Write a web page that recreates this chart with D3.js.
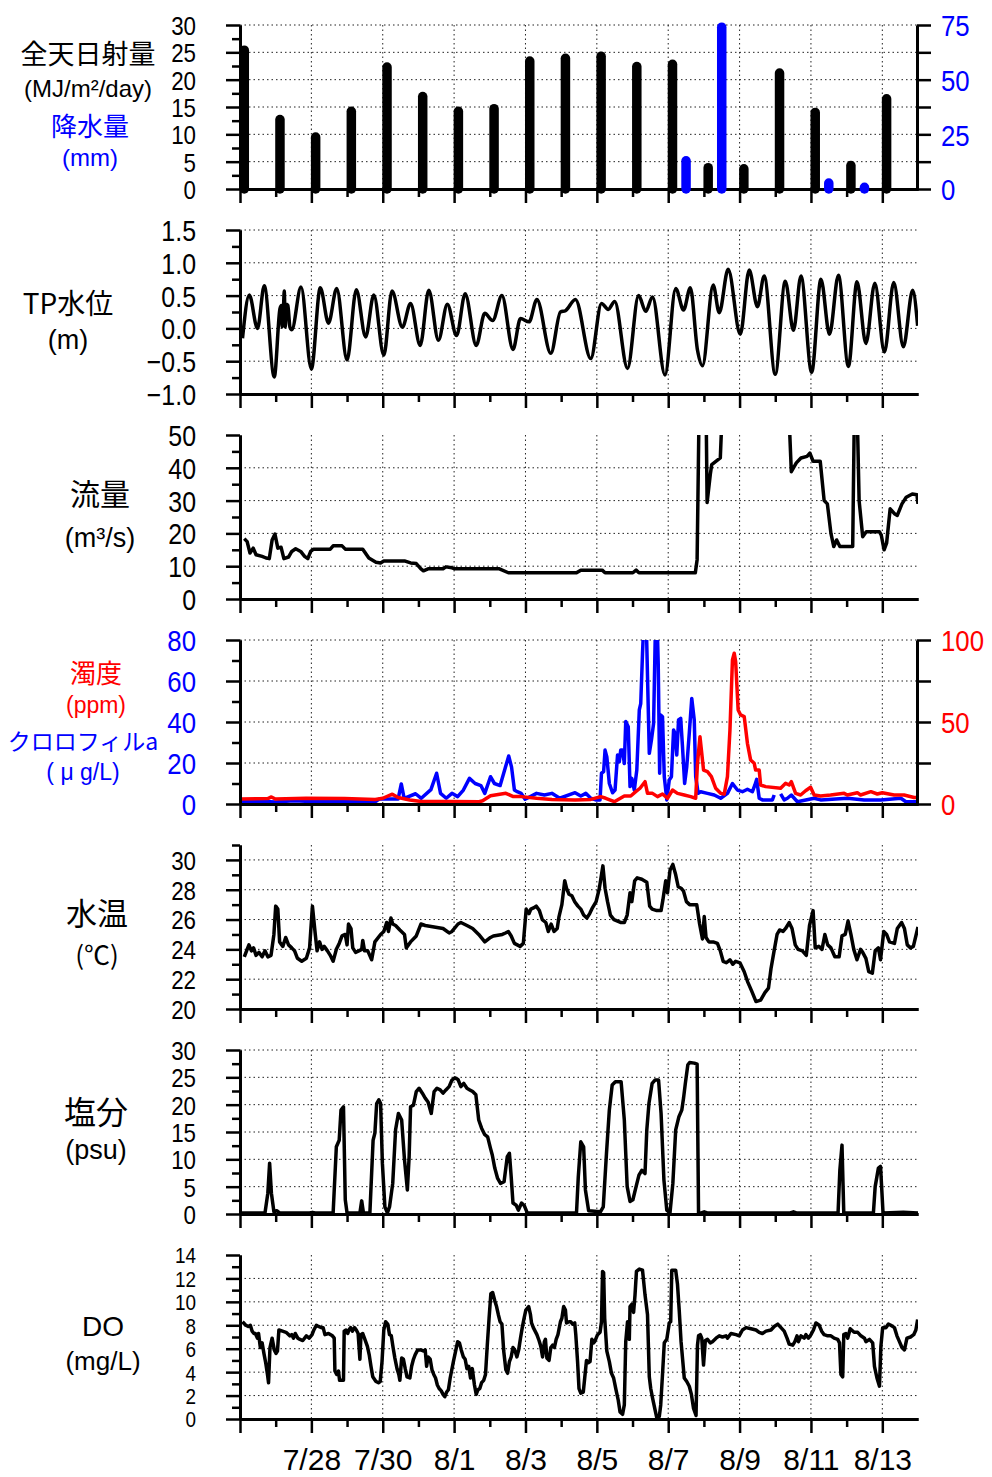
<!DOCTYPE html>
<html>
<head>
<meta charset="utf-8">
<script src="https://cdn.jsdelivr.net/npm/d3@7"></script>
<style>
body { margin: 0; background: #fff; }
svg { display: block; }
text { font-family: "Liberation Sans", Arial, sans-serif; }
.jp { font-family: "Noto Sans CJK JP", sans-serif; }
</style>
</head>
<body>
<svg id="chart" width="992" height="1477"></svg>
<script>
'use strict';

// days since 7/26 0:00
var days = d3.range(19);
var labelDays = [2, 4, 6, 8, 10, 12, 14, 16, 18];
var dayLabels = ['7/28', '7/30', '8/1', '8/3', '8/5', '8/7', '8/9', '8/11', '8/13'];

// 全天日射量 MJ/m2/day, 降水量 mm (daily)
var solar = [25.4, 12.7, 9.5, 14.2, 22.3, 16.9, 14.2, 14.7, 23.4, 23.9, 24.3, 22.4, 22.8, 3.9, 3.7, 21.2, 14.0, 4.3, 16.5];
var rain = [0, 0, 0, 0, 0, 0, 0, 0, 0, 0, 0, 0, 12.9, 74, 0, 0, 2.7, 0.8, 0];

// TP水位 m  [day, value]
var tide = [[0.07,-0.15],[0.26,0.51],[0.49,0.0],[0.68,0.65],[0.96,-0.74],[1.12,0.3],[1.16,0.35],[1.18,0.02],[1.22,0.33],
  [1.24,0.57],[1.27,0.02],[1.3,0.37],[1.34,0.35],[1.4,0.02],[1.45,-0.02],[1.71,0.63],[2.0,-0.62],[2.25,0.62],[2.48,0.08],
  [2.71,0.61],[3.0,-0.48],[3.26,0.59],[3.52,-0.13],[3.75,0.51],[4.03,-0.41],[4.26,0.57],[4.55,0.02],[4.78,0.38],[5.05,-0.26],
  [5.29,0.58],[5.56,-0.18],[5.81,0.37],[6.07,-0.11],[6.31,0.53],[6.62,-0.26],[6.86,0.23],[7.08,0.12],[7.34,0.5],[7.65,-0.32],
  [7.86,0.15],[8.1,0.1],[8.32,0.44],[8.71,-0.38],[8.98,0.25],[9.12,0.27],[9.4,0.44],[9.83,-0.46],[10.13,0.38],[10.32,0.29],
  [10.5,0.41],[10.86,-0.61],[11.17,0.5],[11.37,0.26],[11.56,0.48],[11.91,-0.71],[12.21,0.61],[12.43,0.28],[12.62,0.62],
  [12.82,-0.33],[12.96,-0.57],[13.26,0.66],[13.43,0.24],[13.68,0.9],[14.02,-0.09],[14.27,0.89],[14.5,0.33],[14.69,0.8],
  [15.0,-0.7],[15.28,0.72],[15.51,-0.03],[15.72,0.8],[16.02,-0.67],[16.28,0.75],[16.52,-0.09],[16.77,0.81],[17.05,-0.58],
  [17.29,0.71],[17.54,-0.23],[17.79,0.69],[18.06,-0.36],[18.32,0.7],[18.59,-0.28],[18.85,0.58],[18.99,0.04]];

// 流量 m3/s
var flow = [[0.12,18.4],[0.2,17.5],[0.28,14],[0.37,15.5],[0.45,13.5],[0.62,13.0],[0.73,12.5],[0.82,12.3],[0.9,18],[0.98,19.8],
  [1.06,15.5],[1.15,15.8],[1.23,12.3],[1.36,12.8],[1.45,14.5],[1.56,15.3],[1.7,14.5],[1.81,13.0],[1.9,12.3],[1.98,14.5],
  [2.06,15.2],[2.53,15.2],[2.61,16.2],[2.86,16.2],[2.95,15.2],[3.44,15.2],[3.61,12.5],[3.81,11.2],[3.94,11.0],[4.03,11.6],
  [4.61,11.6],[4.78,11.0],[4.94,10.8],[5.07,9.2],[5.14,8.6],[5.27,9.2],[5.69,9.2],[5.77,9.8],[5.94,9.5],[6.02,9.2],[7.27,9.2],
  [7.52,8.0],[9.43,8.0],[9.55,8.8],[10.15,8.8],[10.23,8.0],[11.01,8.0],[11.1,8.8],[11.18,8.0],[12.76,8.0],[12.81,12],
  [12.88,70],[13.0,80],[13.06,60],[13.09,29.4],[13.18,38],[13.22,41],[13.46,43],[13.56,70],[14.0,90],[15.0,100],[15.37,60],
  [15.45,38.8],[15.59,41.5],[15.72,43],[15.89,43.5],[15.97,44.5],[16.06,42],[16.26,42],[16.37,30],[16.46,29],[16.56,20],
  [16.64,16],[16.72,18],[16.81,16],[17.17,16],[17.22,60],[17.29,60],[17.35,30],[17.45,19],[17.55,20.5],[17.92,20.5],
  [17.97,19.5],[18.05,15],[18.12,17],[18.22,27.5],[18.34,26],[18.42,25.5],[18.55,29],[18.67,31],[18.84,32],[18.97,31.8],[19.0,29]];

// クロロフィルa μg/L (left axis)
var chl = [[0.02,1.1],[0.5,1.4],[1,1.0],[1.5,1.6],[2,1.2],[2.5,1.5],[3,1.1],[3.5,1.4],[3.79,1.1],[3.9,2.4],[4.43,2.4],[4.52,9.8],
  [4.6,2.8],[4.92,5],[5.08,2.8],[5.35,7],[5.51,15],[5.62,5.2],[5.78,2.8],[5.94,5.2],[6.1,3.6],[6.26,6.8],[6.43,12.5],[6.59,10],
  [6.75,9],[6.86,5.2],[7.02,13.3],[7.13,10],[7.29,9],[7.43,17.4],[7.53,23.4],[7.61,18],[7.69,6.8],[7.77,6],[7.88,5.2],[7.99,2.3],
  [8.31,5.2],[8.53,4.4],[8.74,5.2],[8.96,2.8],[9.39,5.5],[9.55,3.9],[9.69,5.2],[9.83,2.8],[9.97,2],[10.09,2],[10.13,15],
  [10.19,15.8],[10.23,26.3],[10.28,23],[10.35,10],[10.44,5.5],[10.51,6.8],[10.58,23.9],[10.63,20.6],[10.67,26.3],[10.72,26.3],
  [10.77,19.8],[10.81,40.2],[10.88,37.7],[10.93,8.5],[10.98,12.5],[11.05,6.8],[11.12,16.6],[11.19,45.9],[11.23,49],[11.28,73.5],
  [11.33,95],[11.39,85],[11.47,24.7],[11.53,31.2],[11.59,39.3],[11.64,85],[11.68,95],[11.72,68.6],[11.76,15],[11.79,43.4],
  [11.84,42.6],[11.89,13.3],[11.96,2],[12.03,11.7],[12.09,13.3],[12.15,36.1],[12.19,34.5],[12.24,23.9],[12.29,41],[12.35,41.8],
  [12.4,28],[12.46,10],[12.52,18.2],[12.59,34.5],[12.66,51.5],[12.73,41],[12.77,13.3],[12.84,5.2],[12.91,6],[13.1,5.2],
  [13.29,4.4],[13.47,2.8],[13.66,5.2],[13.8,10],[13.94,6.8],[14.08,6],[14.22,7.2],[14.36,6],[14.43,9.3],[14.48,12],[14.55,2.8],
  [14.64,2],[14.92,2],[14.97,4.4],[15.05,null],[15.15,4.9],[15.25,2],[15.34,2.8],[15.45,4.4],[15.62,1.1],[16.09,2.8],[16.27,2],
  [17.02,2.8],[17.49,2],[17.96,2],[18.52,2.8],[18.66,1.1],[18.89,1.1],[19.0,1.1]];

// 濁度 ppm (right axis)
var turb = [[0.02,3],[0.78,3.3],[0.88,4.3],[0.99,3],[1.85,3.5],[2.93,3.3],[3.79,2.8],[4.0,3.5],[4.27,6],[4.43,4],[4.76,2.4],
  [5.08,1.5],[5.94,1.5],[6.7,1.4],[6.8,2],[7.02,5],[7.45,6.5],[7.66,4.5],[7.88,4.5],[8.31,3.5],[8.74,2.8],[9.39,2.4],[9.83,2.8],
  [10.11,4.5],[10.25,3.5],[10.49,1.4],[10.77,4.9],[10.95,4.9],[11.09,7.5],[11.21,9.6],[11.35,13.6],[11.42,6.5],[11.56,6.5],
  [11.7,4.5],[11.84,6.1],[11.98,3.5],[12.12,8.5],[12.26,6.5],[12.45,5.5],[12.63,4.5],[12.77,3.5],[12.82,24.8],[12.89,41],
  [12.93,33],[12.99,20.7],[13.1,19.7],[13.21,16.7],[13.33,9.6],[13.47,6.5],[13.57,6],[13.66,16.7],[13.73,45],[13.8,87.8],
  [13.85,91.9],[13.89,86.8],[13.96,57.3],[14.03,54.3],[14.13,53.3],[14.22,37],[14.31,26.8],[14.41,24.8],[14.45,20.7],
  [14.55,20.7],[14.59,11.6],[14.73,10.6],[15.15,9.6],[15.29,12.6],[15.39,11.6],[15.45,13.6],[15.57,6.5],[15.71,5.5],
  [15.85,8.1],[15.99,10.2],[16.09,5.5],[16.27,4.9],[16.55,5.5],[16.93,6.5],[17.02,5.5],[17.3,6.9],[17.39,5.5],[17.68,7.5],
  [17.86,6.1],[18.0,6.9],[18.33,5.5],[18.61,5.5],[18.89,4],[19.0,4]];

// 水温 ℃
var temp = [[0.12,23.5],[0.2,24.0],[0.25,24.3],[0.32,23.9],[0.38,24.1],[0.45,23.6],[0.53,23.8],[0.62,23.5],[0.7,23.9],[0.78,23.5],
  [0.87,23.6],[0.95,25.0],[1.0,26.9],[1.06,26.7],[1.11,24.5],[1.2,24.2],[1.28,24.8],[1.36,24.3],[1.45,24.1],[1.53,23.9],
  [1.61,23.4],[1.73,23.2],[1.86,23.4],[1.95,24.1],[2.03,26.9],[2.11,25.0],[2.16,23.9],[2.23,24.5],[2.3,24.0],[2.36,24.2],
  [2.45,23.9],[2.53,23.6],[2.61,23.2],[2.7,24.0],[2.78,24.4],[2.86,24.9],[2.95,25.0],[3.0,24.3],[3.04,25.7],[3.11,25.4],
  [3.16,24.1],[3.24,23.8],[3.33,23.9],[3.41,24.0],[3.44,24.6],[3.49,23.9],[3.58,23.9],[3.69,23.3],[3.78,24.5],[3.94,25.0],
  [4.03,25.2],[4.11,25.8],[4.16,25.2],[4.23,26.1],[4.28,25.7],[4.36,25.6],[4.48,25.3],[4.61,25.0],[4.66,24.1],[4.78,24.5],
  [4.94,24.9],[5.07,25.7],[5.19,25.6],[5.44,25.5],[5.69,25.4],[5.86,25.1],[5.94,25.2],[6.11,25.7],[6.19,25.8],[6.36,25.6],
  [6.52,25.4],[6.69,25.0],[6.86,24.5],[7.02,24.8],[7.1,24.9],[7.35,25.0],[7.44,25.1],[7.52,25.2],[7.6,24.9],[7.69,24.4],
  [7.85,24.2],[7.94,24.4],[8.02,26.7],[8.1,26.4],[8.15,26.7],[8.24,26.8],[8.3,26.9],[8.39,26.6],[8.47,26.0],[8.57,25.8],
  [8.64,25.2],[8.72,25.7],[8.8,25.2],[8.89,25.4],[8.94,26.2],[9.02,27.0],[9.1,28.6],[9.15,28.1],[9.22,27.7],[9.3,27.6],
  [9.38,27.2],[9.47,26.9],[9.55,26.7],[9.63,26.3],[9.72,26.1],[9.8,26.4],[9.88,26.8],[9.98,27.2],[10.07,28.1],[10.17,29.6],
  [10.23,28.1],[10.3,27.2],[10.38,26.3],[10.48,26.0],[10.68,25.8],[10.77,25.8],[10.85,26.3],[10.93,27.8],[10.98,27.2],
  [11.06,28.6],[11.13,28.8],[11.26,28.7],[11.4,28.5],[11.48,26.9],[11.55,26.7],[11.68,26.6],[11.8,26.6],[11.85,27.3],
  [11.93,28.6],[11.98,27.8],[12.05,29.3],[12.13,29.7],[12.21,29.0],[12.28,28.2],[12.36,28.1],[12.43,27.9],[12.51,27.2],
  [12.6,27.0],[12.8,27.0],[12.88,25.7],[12.96,24.7],[13.01,26.2],[13.06,24.8],[13.14,24.5],[13.26,24.5],[13.38,24.4],
  [13.46,23.9],[13.54,23.2],[13.63,23.1],[13.73,23.3],[13.81,23.0],[13.89,23.2],[14.01,23.1],[14.13,22.5],[14.23,21.8],
  [14.34,21.2],[14.46,20.5],[14.59,20.6],[14.71,21.1],[14.81,21.4],[14.88,22.7],[14.96,23.8],[15.05,25.0],[15.12,25.3],
  [15.22,25.2],[15.29,25.4],[15.39,25.8],[15.47,25.4],[15.56,24.3],[15.64,24.0],[15.76,23.9],[15.87,23.6],[15.96,25.6],
  [16.06,26.6],[16.12,24.1],[16.22,24.2],[16.31,24.0],[16.39,25.0],[16.47,24.3],[16.56,24.1],[16.67,23.5],[16.79,23.5],
  [16.87,24.9],[16.96,25.0],[17.04,25.9],[17.12,25.0],[17.2,24.0],[17.29,23.3],[17.39,24.0],[17.45,23.8],[17.54,23.4],
  [17.62,22.5],[17.72,22.4],[17.8,23.9],[17.89,24.1],[17.95,23.3],[18.04,25.2],[18.12,25.0],[18.2,24.5],[18.34,24.4],
  [18.42,25.4],[18.54,25.8],[18.62,25.4],[18.7,24.3],[18.79,24.1],[18.87,24.2],[19.0,25.5]];

// 塩分 psu
var sal = [[0.03,0.2],[0.7,0.2],[0.78,3.8],[0.83,9.3],[0.88,3.8],[0.95,0.4],[1.03,0.6],[1.11,0.2],[1.95,0.2],[2.03,0.3],
  [2.11,0.2],[2.61,0.2],[2.7,12.3],[2.78,13.5],[2.83,19],[2.9,19.6],[2.95,2.6],[3.0,0.2],[3.36,0.2],[3.41,2.4],[3.46,0.2],
  [3.64,0.2],[3.73,13.5],[3.78,14.8],[3.83,20.2],[3.89,20.9],[3.94,20.2],[3.99,9.3],[4.06,1.3],[4.13,0.2],[4.19,1.3],[4.28,5.6],
  [4.36,15.4],[4.44,18.4],[4.53,17.2],[4.61,9.9],[4.69,4.4],[4.74,10.5],[4.78,19.6],[4.86,19.9],[4.94,22.4],[5.02,23.0],
  [5.11,22.1],[5.19,21.2],[5.27,20.5],[5.36,18.4],[5.44,22.4],[5.52,23.0],[5.61,22.7],[5.69,22.1],[5.77,22.7],[5.86,23.3],
  [5.94,24.5],[6.02,24.9],[6.11,24.6],[6.19,23.3],[6.27,23.9],[6.36,23.0],[6.44,22.7],[6.52,22.4],[6.61,21.8],[6.69,17.2],
  [6.77,15.7],[6.86,14.5],[6.94,14.1],[7.02,12.0],[7.07,10.8],[7.14,8.4],[7.22,6.5],[7.3,5.6],[7.4,5.9],[7.49,10.5],[7.55,11.1],
  [7.6,6.8],[7.65,2.0],[7.74,1.6],[7.8,0.7],[7.89,2.0],[7.97,1.5],[8.05,0.2],[9.43,0.2],[9.48,6.8],[9.55,13.2],[9.63,12.3],
  [9.68,4.4],[9.77,0.6],[10.1,0.4],[10.18,1.3],[10.27,11.1],[10.35,19.0],[10.43,23.6],[10.52,24.2],[10.68,24.2],[10.77,17.2],
  [10.85,5.0],[10.93,2.3],[11.01,2.6],[11.1,5.0],[11.18,7.1],[11.26,8.0],[11.35,7.4],[11.4,15.4],[11.46,20.2],[11.55,23.9],
  [11.63,24.5],[11.73,24.5],[11.8,18.4],[11.88,6.2],[11.96,0.7],[12.05,0.2],[12.13,5.6],[12.21,15.4],[12.3,17.8],[12.38,19.0],
  [12.43,21.2],[12.48,23.9],[12.55,27.3],[12.6,27.7],[12.73,27.6],[12.81,27.4],[12.85,0.2],[12.93,0.2],[13.01,0.4],[13.09,0.2],
  [15.42,0.2],[15.51,0.4],[15.59,0.2],[16.76,0.2],[16.81,8.0],[16.87,12.6],[16.92,0.2],[17.75,0.2],[17.8,5.0],[17.89,8.4],
  [17.95,8.7],[18.02,0.2],[18.59,0.3],[19.0,0.2]];

// DO mg/L
var dox = [[0.07,8.3],[0.16,8.0],[0.23,7.9],[0.29,8.0],[0.34,7.5],[0.39,7.3],[0.43,7.3],[0.49,6.9],[0.52,7.3],[0.57,6.1],
  [0.62,6.5],[0.67,5.6],[0.72,4.8],[0.77,3.8],[0.8,3.1],[0.84,6.1],[0.9,6.9],[0.96,5.9],[1.01,5.6],[1.05,5.8],[1.09,7.6],
  [1.19,7.5],[1.29,7.4],[1.4,7.1],[1.45,7.2],[1.5,6.9],[1.55,7.3],[1.62,6.9],[1.68,6.8],[1.76,6.7],[1.86,7.1],[1.94,6.9],
  [2.02,7.2],[2.07,7.6],[2.14,8.0],[2.2,7.9],[2.28,7.8],[2.33,7.8],[2.38,7.2],[2.48,7.3],[2.59,7.1],[2.64,6.9],[2.66,4.1],
  [2.71,3.8],[2.76,4.1],[2.79,3.3],[2.84,3.3],[2.9,3.3],[2.92,7.5],[2.97,7.6],[3.02,7.3],[3.05,7.6],[3.1,7.8],[3.15,7.5],
  [3.21,7.8],[3.26,7.6],[3.31,7.3],[3.36,5.1],[3.39,7.2],[3.44,7.3],[3.5,6.8],[3.57,6.2],[3.62,5.5],[3.67,4.5],[3.72,3.6],
  [3.81,3.2],[3.88,3.1],[3.93,3.2],[3.98,4.9],[4.03,7.6],[4.08,8.3],[4.14,8.1],[4.19,7.2],[4.24,7.1],[4.29,6.1],[4.34,5.2],
  [4.4,4.3],[4.45,3.8],[4.48,3.3],[4.53,5.2],[4.58,5.1],[4.63,4.3],[4.68,3.6],[4.76,3.5],[4.81,4.5],[4.86,5.1],[4.91,5.5],
  [4.98,5.9],[5.07,5.9],[5.15,5.8],[5.19,5.9],[5.23,4.5],[5.27,5.3],[5.33,5.1],[5.38,4.2],[5.43,3.8],[5.48,3.5],[5.53,2.9],
  [5.58,2.6],[5.64,2.4],[5.69,2.1],[5.74,1.9],[5.79,2.3],[5.84,2.5],[5.89,3.5],[5.98,4.9],[6.05,5.9],[6.1,6.6],[6.15,6.5],
  [6.2,5.9],[6.26,5.3],[6.31,5.1],[6.36,4.3],[6.41,4.5],[6.46,3.5],[6.51,4.3],[6.57,2.9],[6.62,2.1],[6.67,2.5],[6.72,2.6],
  [6.77,3.1],[6.83,3.3],[6.88,3.8],[6.93,6.3],[6.98,8.6],[7.03,10.7],[7.08,10.8],[7.14,10.1],[7.19,9.6],[7.24,8.9],[7.29,8.3],
  [7.34,8.1],[7.39,5.8],[7.45,4.2],[7.5,3.9],[7.55,4.9],[7.6,5.3],[7.65,6.1],[7.7,5.9],[7.76,5.3],[7.81,5.9],[7.86,6.9],
  [7.91,7.8],[7.96,8.6],[8.01,9.3],[8.09,9.6],[8.14,8.9],[8.17,8.2],[8.22,7.8],[8.27,7.5],[8.32,7.2],[8.38,6.7],[8.43,6.2],
  [8.48,5.3],[8.53,6.6],[8.56,6.8],[8.6,5.2],[8.66,5.0],[8.71,6.1],[8.76,6.3],[8.81,6.1],[8.86,6.8],[8.91,7.2],[8.98,8.3],
  [9.02,8.6],[9.07,9.6],[9.12,9.3],[9.15,8.2],[9.22,8.3],[9.27,8.3],[9.32,8.1],[9.38,8.2],[9.41,7.2],[9.46,4.9],[9.5,2.6],
  [9.55,2.2],[9.62,2.3],[9.66,3.5],[9.71,5.0],[9.76,4.8],[9.81,4.9],[9.86,6.8],[9.91,6.5],[9.94,6.6],[10.02,7.2],[10.09,7.4],
  [10.13,8.3],[10.16,12.6],[10.19,12.5],[10.22,8.6],[10.28,5.8],[10.35,4.9],[10.41,3.9],[10.47,3.5],[10.53,2.6],[10.6,1.6],
  [10.65,0.6],[10.72,0.4],[10.77,1.2],[10.81,6.6],[10.86,8.3],[10.91,6.8],[10.93,9.6],[10.98,9.8],[11.03,9.1],[11.07,10.6],
  [11.11,12.6],[11.19,12.8],[11.28,12.7],[11.35,10.6],[11.42,8.9],[11.47,3.6],[11.51,2.6],[11.56,1.8],[11.63,0.8],[11.68,0.1],
  [11.75,0.2],[11.79,1.2],[11.84,3.8],[11.89,6.5],[11.96,6.8],[12.03,8.2],[12.07,8.3],[12.1,12.7],[12.21,12.7],[12.26,11.5],
  [12.31,9.2],[12.36,6.6],[12.45,3.5],[12.52,3.2],[12.59,2.8],[12.65,2.1],[12.71,0.9],[12.78,0.3],[12.82,6.3],[12.85,7.1],
  [12.9,7.2],[12.94,6.9],[12.99,4.6],[13.04,6.7],[13.1,6.8],[13.18,6.5],[13.24,6.6],[13.34,6.9],[13.43,7.1],[13.52,7.0],
  [13.62,7.1],[13.66,6.9],[13.76,7.3],[13.9,7.2],[13.99,7.1],[14.08,7.6],[14.18,7.8],[14.32,7.7],[14.46,7.6],[14.55,7.4],
  [14.64,7.3],[14.74,7.5],[14.88,7.6],[14.97,7.9],[15.07,8.1],[15.16,7.8],[15.25,7.5],[15.33,6.9],[15.39,6.4],[15.49,6.3],
  [15.55,6.6],[15.61,7.1],[15.65,6.6],[15.72,7.1],[15.81,6.9],[15.86,7.2],[15.93,6.9],[16.0,7.2],[16.07,7.6],[16.14,8.2],
  [16.23,8.0],[16.3,7.5],[16.37,7.2],[16.47,7.1],[16.56,7.1],[16.65,6.9],[16.75,6.8],[16.8,6.5],[16.84,3.8],[16.89,3.6],
  [16.92,7.2],[16.98,7.3],[17.03,6.9],[17.1,7.7],[17.21,7.4],[17.31,7.4],[17.4,7.1],[17.5,6.9],[17.54,6.6],[17.64,6.8],
  [17.73,6.5],[17.78,4.5],[17.85,3.5],[17.92,2.8],[17.96,6.2],[18.01,7.8],[18.1,7.8],[18.17,8.1],[18.24,8.0],[18.34,7.8],
  [18.41,7.1],[18.48,6.6],[18.55,6.1],[18.62,5.9],[18.69,6.9],[18.79,7.0],[18.88,7.2],[18.94,7.6],[18.99,8.5]];

var BLUE = '#0000ff', RED = '#ff0000';
var svg = d3.select('#chart');
var x = d3.scaleLinear().domain([0, 19]).range([240, 918]);
var panelH = 164;
function panelTop(k) { return 25 + 205 * k; }

function range(a, b, s) { return d3.range(a, b + s / 2, s); }

function styleAxis(sel, numColor, textX, size) {
  sel.select('.domain').attr('stroke', '#000').attr('stroke-width', 3);
  sel.selectAll('.tick line').attr('stroke', '#000').attr('stroke-width', 2.5);
  // drop the empty labels of unlabelled ticks
  sel.selectAll('.tick text').filter(function () { return this.textContent === ''; }).remove();
  sel.selectAll('.tick text')
    .attr('fill', numColor || '#000')
    .style('font-size', (size || 30) + 'px')
    .attr('dy', '0.36em');
  if (textX !== undefined) {
    sel.selectAll('.tick text')
      .attr('x', textX / 0.86)
      .attr('transform', 'scale(0.86,1)');
  }
}

function makePanel(k, cfg) {
  var y0 = panelTop(k), y1 = y0 + panelH;
  var g = svg.append('g');
  var y = d3.scaleLinear().domain(cfg.domain).range([y1, y0]);
  var clipId = 'clip' + k;
  svg.append('clipPath').attr('id', clipId)
    .append('rect').attr('x', 240).attr('y', y0).attr('width', 678).attr('height', panelH);

  // grid
  var grid = g.append('g').attr('stroke', '#222').attr('stroke-width', 1).attr('stroke-dasharray', '1.5,3');
  grid.selectAll('line.h').data(cfg.grid).enter().append('line')
    .attr('x1', 240).attr('x2', 918)
    .attr('y1', function (d) { return y(d); }).attr('y2', function (d) { return y(d); });
  grid.selectAll('line.v').data(labelDays).enter().append('line')
    .attr('y1', y0).attr('y2', y1)
    .attr('x1', function (d) { return x(d); }).attr('x2', function (d) { return x(d); });

  var plot = g.append('g').attr('clip-path', 'url(#' + clipId + ')');

  // left axis
  var axL = g.append('g').attr('transform', 'translate(240,0)');
  axL.append('g').call(d3.axisLeft(y).tickValues(cfg.minor).tickSize(8).tickSizeOuter(0).tickFormat(''))
    .call(styleAxis);
  axL.append('g').call(d3.axisLeft(y).tickValues(cfg.major).tickSize(14).tickSizeOuter(0).tickFormat(cfg.fmt))
    .call(styleAxis, cfg.leftColor, -44, cfg.size);

  // bottom axis
  var axB = g.append('g').attr('transform', 'translate(0,' + y1 + ')');
  axB.append('g').call(d3.axisBottom(x).tickValues(days.filter(function (d) { return d % 2 === 1; }))
    .tickSize(8).tickSizeOuter(0).tickFormat('')).call(styleAxis);
  var labelled = axB.append('g').call(d3.axisBottom(x).tickValues(days.filter(function (d) { return d % 2 === 0; }))
    .tickSize(14).tickSizeOuter(0)
    .tickFormat(function (d) { return cfg.last && d > 0 ? dayLabels[labelDays.indexOf(d)] : ''; }))
    .call(styleAxis);
  labelled.selectAll('.tick text').attr('y', 40).attr('dy', '0.36em').style('font-size', '30px');
  return { g: g, plot: plot, y: y, y0: y0, y1: y1 };
}

function addRight(p, yR, major, labels, color) {
  var axR = p.g.append('g').attr('transform', 'translate(917,0)');
  axR.call(d3.axisRight(yR).tickValues(major).tickSize(14).tickSizeOuter(0)
      .tickFormat(function (d) { return labels.indexOf(d) >= 0 ? d : ''; }))
    .call(styleAxis, color, 24);
  axR.selectAll('.tick text').attr('text-anchor', 'start');
}

function drawLine(p, data, yS, color, curve) {
  p.plot.append('path')
    .datum(data)
    .attr('fill', 'none')
    .attr('stroke', color)
    .attr('stroke-width', 3.5)
    .attr('stroke-linejoin', 'round')
    .attr('d', d3.line()
      .defined(function (d) { return d[1] !== null; })
      .curve(curve || d3.curveLinear)
      .x(function (d) { return x(d[0]); })
      .y(function (d) { return yS(d[1]); }));
}

var f0 = d3.format('d'), f1 = d3.format('.1f');

// 1: solar radiation + rain
var p1 = makePanel(0, { domain: [0, 30], major: range(0, 30, 5), minor: range(2.5, 27.5, 5), grid: range(5, 30, 5), fmt: f0, size: 26 });
var yRain = d3.scaleLinear().domain([0, 75]).range([p1.y1, p1.y0]);
addRight(p1, yRain, range(0, 75, 12.5), [0, 25, 50, 75], BLUE);
p1.g.append('g').selectAll('line').data(days).enter().append('line')
  .attr('x1', function (d) { return x(d + 0.12); }).attr('x2', function (d) { return x(d + 0.12); })
  .attr('y1', p1.y(0)).attr('y2', function (d) { return p1.y(solar[d]); })
  .attr('stroke', '#000').attr('stroke-width', 9.5).attr('stroke-linecap', 'round');
p1.g.append('g').selectAll('line').data(days.filter(function (d) { return rain[d] > 0; })).enter().append('line')
  .attr('x1', function (d) { return x(d + 0.5); }).attr('x2', function (d) { return x(d + 0.5); })
  .attr('y1', yRain(0)).attr('y2', function (d) { return yRain(rain[d]); })
  .attr('stroke', BLUE).attr('stroke-width', 9.5).attr('stroke-linecap', 'round');

// 2: TP water level
var p2 = makePanel(1, { domain: [-1, 1.5], major: range(-1, 1.5, 0.5), minor: range(-0.75, 1.25, 0.5), grid: range(-0.5, 1.5, 0.5), fmt: f1, size: 29 });
drawLine(p2, tide, p2.y, '#000', d3.curveMonotoneX);

// 3: discharge
var p3 = makePanel(2, { domain: [0, 50], major: range(0, 50, 10), minor: range(5, 45, 10), grid: range(10, 40, 10), fmt: f0, size: 29 });
drawLine(p3, flow, p3.y, '#000');

// 4: turbidity + chlorophyll
var p4 = makePanel(3, { domain: [0, 80], major: range(0, 80, 20), minor: range(10, 70, 20), grid: range(20, 80, 20), fmt: f0, leftColor: BLUE });
var yTurb = d3.scaleLinear().domain([0, 100]).range([p4.y1, p4.y0]);
addRight(p4, yTurb, range(0, 100, 25), [0, 50, 100], RED);
drawLine(p4, chl, p4.y, BLUE);
drawLine(p4, turb, yTurb, RED);

// 5: water temperature
var p5 = makePanel(4, { domain: [20, 31], major: range(20, 30, 2), minor: range(21, 31, 2), grid: range(22, 30, 2), fmt: f0, size: 26 });
drawLine(p5, temp, p5.y, '#000');

// 6: salinity
var p6 = makePanel(5, { domain: [0, 30], major: range(0, 30, 5), minor: range(2.5, 27.5, 5), grid: range(5, 30, 5), fmt: f0, size: 26 });
drawLine(p6, sal, p6.y, '#000');

// 7: DO
var p7 = makePanel(6, { domain: [0, 14], major: range(0, 14, 2), minor: range(1, 13, 2), grid: range(2, 12, 2), fmt: f0, last: true, size: 22 });
drawLine(p7, dox, p7.y, '#000');

// panel titles (jp: drawn with the CJK font)
var titles = [
  { t: '全天日射量', x: 88, y: 52, s: 27, c: '#000', jp: true },
  { t: '(MJ/m\u00b2/day)', x: 88, y: 88, s: 24, c: '#000' },
  { t: '降水量', x: 90, y: 124, s: 26, c: BLUE, jp: true },
  { t: '(mm)', x: 90, y: 157, s: 24, c: BLUE },
  { t: 'TP水位', x: 68, y: 302, s: 28, c: '#000', jp: true },
  { t: '(m)', x: 68, y: 340, s: 27, c: '#000' },
  { t: '流量', x: 100, y: 492, s: 30, c: '#000', jp: true },
  { t: '(m\u00b3/s)', x: 100, y: 538, s: 27, c: '#000' },
  { t: '濁度', x: 96, y: 671, s: 26, c: RED, jp: true },
  { t: '(ppm)', x: 96, y: 705, s: 23, c: RED },
  { t: 'クロロフィルa', x: 83, y: 740, s: 23, c: BLUE, jp: true },
  { t: '( μ g/L)', x: 83, y: 772, s: 23, c: BLUE },
  { t: '水温', x: 97, y: 911, s: 31, c: '#000', jp: true },
  { t: '(℃)', x: 97, y: 953, s: 26, c: '#000', jp: true },
  { t: '塩分', x: 96, y: 1110, s: 32, c: '#000', jp: true },
  { t: '(psu)', x: 96, y: 1150, s: 27, c: '#000' },
  { t: 'DO', x: 103, y: 1326, s: 28, c: '#000' },
  { t: '(mg/L)', x: 103, y: 1361, s: 26, c: '#000' }
];
svg.append('g').selectAll('text').data(titles).enter().append('text')
  .attr('class', function (d) { return d.jp ? 'jp' : null; })
  .attr('x', function (d) { return d.x; })
  .attr('y', function (d) { return d.y; })
  .attr('text-anchor', 'middle')
  .attr('dominant-baseline', 'central')
  .attr('fill', function (d) { return d.c; })
  .style('font-size', function (d) { return d.s + 'px'; })
  .text(function (d) { return d.t; });
</script>
</body>
</html>
